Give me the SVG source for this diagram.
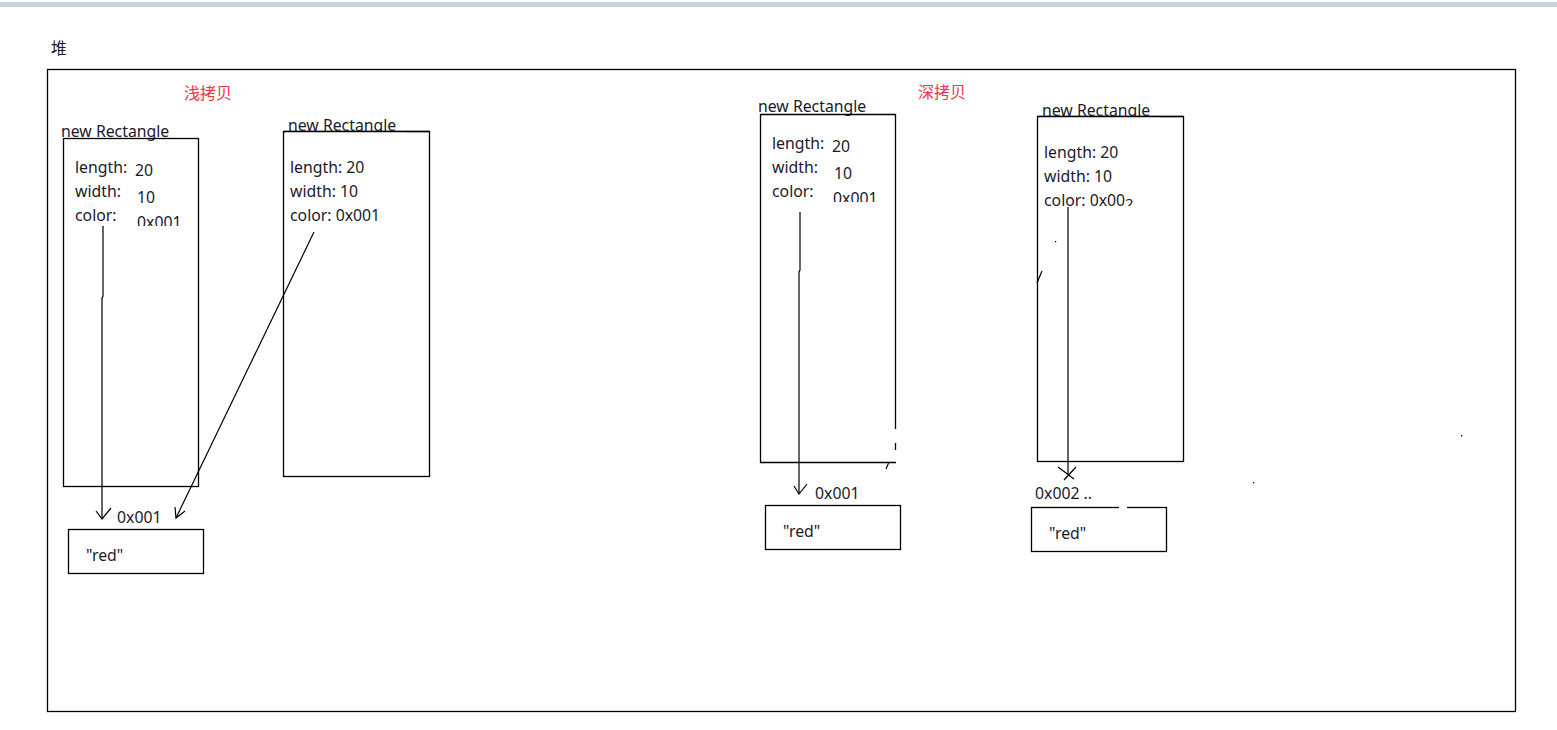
<svg xmlns="http://www.w3.org/2000/svg" width="1557" height="730" viewBox="0 0 1557 730">
<style>
.t{font-family:"Noto Sans","Noto Sans CJK SC",sans-serif;font-size:15.8px;fill:#1a1a2a}
.r{font-family:"Noto Sans CJK SC","Noto Sans",sans-serif;font-size:16px;fill:#f2334a}
.b{fill:none;stroke:#000;stroke-width:1.3}
.c{fill:none;stroke:#000;stroke-width:1.2}
</style>
<rect x="0" y="0" width="1557" height="730" fill="#fff"/>
<rect x="0" y="2" width="1557" height="5" fill="#c9d1dd"/>
<text x="51" y="54" class="t" style="font-family:'Noto Sans CJK SC',sans-serif">堆</text>
<rect id="heap" x="47.5" y="69.5" width="1468" height="642" class="b"/>
<text x="184" y="99" class="r">浅拷贝</text>
<text x="918" y="98" class="r">深拷贝</text>

<g id="shallow-a">
<text x="61" y="137" class="t">new Rectangle</text>
<rect x="63.5" y="138.5" width="135" height="348" class="b"/>
<text x="75" y="173" class="t">length:</text><text x="135" y="176" class="t">20</text>
<text x="75" y="197" class="t">width:</text><text x="137" y="203" class="t">10</text>
<text x="75" y="221" class="t">color:</text><text x="137" y="228" class="t">0x001</text>
<rect x="130" y="226" width="60" height="10" fill="#fff"/>
</g>

<g id="shallow-b">
<rect x="283.5" y="131.5" width="146" height="345" class="b"/>
<text x="288" y="131" class="t">new Rectangle</text>
<rect x="286" y="131" width="120" height="6" fill="#fff"/>
<line x1="283.5" y1="131.5" x2="429.5" y2="131.5" class="b"/>
<text x="290" y="173" class="t">length: 20</text>
<text x="290" y="197" class="t">width: 10</text>
<text x="290" y="221" class="t">color: 0x001</text>
</g>

<g id="red-a">
<rect x="68.5" y="529.5" width="135" height="44" class="b"/>
<text x="86" y="561" class="t">"red"</text>
</g>
<text x="117" y="523" class="t">0x001</text>
<rect x="115" y="523" width="50" height="5" fill="#fff"/>

<g id="deep-a">
<text x="758" y="112" class="t">new Rectangle</text>
<path d="M895.5 429 V114.5 H760.5 V462.5 H896" class="b"/>
<line x1="895.5" y1="443" x2="895.5" y2="450" class="b"/>
<line x1="886" y1="469" x2="889" y2="462" class="c"/>
<text x="772" y="149" class="t">length:</text><text x="832" y="152" class="t">20</text>
<text x="772" y="173" class="t">width:</text><text x="834" y="179" class="t">10</text>
<text x="772" y="197" class="t">color:</text><text x="833" y="204" class="t">0x001</text>
<rect x="828" y="202" width="60" height="8" fill="#fff"/>
</g>

<g id="red-b">
<rect x="765.5" y="505.5" width="135" height="44" class="b"/>
<text x="783" y="537" class="t">"red"</text>
</g>
<text x="815" y="499" class="t">0x001</text>

<g id="deep-b">
<rect x="1037.5" y="116.5" width="146" height="345" class="b"/>
<text x="1042" y="116" class="t">new Rectangle</text>
<rect x="1040" y="116" width="120" height="6" fill="#fff"/>
<line x1="1037.5" y1="116.5" x2="1183.5" y2="116.5" class="b"/>
<text x="1044" y="158" class="t">length: 20</text>
<text x="1044" y="182" class="t">width: 10</text>
<text x="1044" y="206" class="t">color: 0x00</text>
<text x="1125" y="209" class="t" style="font-size:15px">2</text>
<rect x="1123" y="206" width="14" height="6" fill="#fff"/>
<line x1="1037" y1="283" x2="1042" y2="271" class="c"/>
<rect x="1055" y="241" width="1.2" height="1.2" fill="#000"/>
</g>

<g id="red-c">
<rect x="1031.5" y="507.5" width="135" height="44" class="b"/>
<rect x="1119" y="505" width="8" height="5" fill="#fff"/>
<text x="1049" y="539" class="t">"red"</text>
</g>
<text x="1035" y="499" class="t">0x002 ..</text>

<rect x="1461" y="435" width="1.3" height="1.3" fill="#000"/>
<rect x="1253" y="482" width="1.3" height="1.3" fill="#000"/>

<g id="connectors">
<path d="M103 226 V296 L102 298 V519" class="c"/>
<path d="M96 511 L102 519 L111 508" class="c"/>
<path d="M314 232 L176 518" class="c"/>
<path d="M175 507 L176 518 L185 511" class="c"/>
<path d="M800 212 V270 L799 272 V494" class="c"/>
<path d="M794 486 L799 494 L807 484" class="c"/>
<path d="M1068 207 V475" class="c"/>
<path d="M1058 467 L1074 479 M1076 467 L1064 480" class="c"/>
</g>
</svg>
